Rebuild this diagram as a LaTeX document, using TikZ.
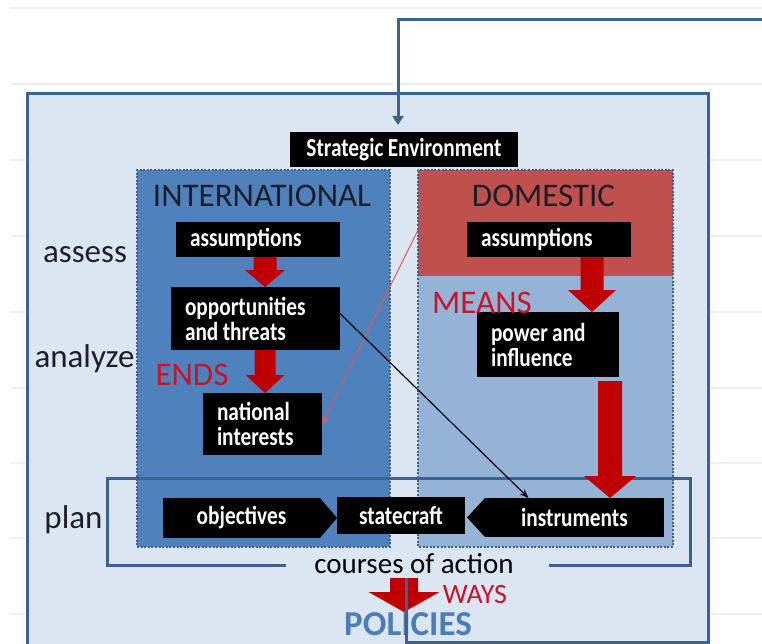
\documentclass[tikz,border=0pt]{standalone}
\usepackage{fontspec}
\setmainfont{Carlito}
\newfontfamily\boxfont[FakeStretch=0.82,WordSpace=0.9]{Carlito}
\usetikzlibrary{calc,arrows.meta}
\definecolor{frameblue}{RGB}{60,98,145}
\definecolor{outerfill}{RGB}{220,230,242}
\definecolor{intblue}{RGB}{79,129,189}
\definecolor{domblue}{RGB}{149,179,215}
\definecolor{domred}{RGB}{192,80,77}
\definecolor{arrowred}{RGB}{192,0,0}
\definecolor{labelred}{RGB}{200,20,40}
\definecolor{thinred}{RGB}{222,90,90}
\definecolor{policyblue}{RGB}{74,126,187}
\definecolor{gridgray}{RGB}{240,240,240}
\definecolor{darktext}{RGB}{30,30,40}
\newcommand{\redblock}[5]{%
  \fill[arrowred] ($(#1)+(-#3,0)$) -- ($(#1)+(#3,0)$) -- ($(#2)+(#3,-#5)$) -- ($(#2)+(#4,-#5)$) -- (#2) -- ($(#2)+(-#4,-#5)$) -- ($(#2)+(-#3,-#5)$) -- cycle;}
\tikzset{
  frame/.style={draw=frameblue, line width=3pt},
  dotline/.style={draw=frameblue, line width=1.6pt, dash pattern=on 2pt off 1.6pt},
  blk/.style 2 args={fill=black, text=white, font=\boxfont\bfseries\fontsize{26}{25}\selectfont,
    inner xsep=14pt, inner ysep=0pt, outer sep=0pt, align=flush left, text width=#1, minimum height=#2},
  cblk/.style={fill=black, text=white, font=\boxfont\bfseries\fontsize{26}{25}\selectfont,
    inner sep=0pt, outer sep=0pt, align=flush center},
  biglabel/.style={font=\fontsize{33}{36}\selectfont, text=darktext, anchor=base, inner sep=0pt},
  redlabel/.style={font=\fontsize{33}{36}\selectfont, text=labelred, anchor=base, inner sep=0pt},
  thinarrow/.style={line width=1.2pt, -{Stealth[length=9pt,width=7pt]}}
}
\begin{document}
\begin{tikzpicture}[x=1pt,y=-1pt]
\clip (0,0) rectangle (762,644);
\fill[white] (0,0) rectangle (762,644);
\foreach \yy in {8,84,160,236,312,388,463,538,614}
  \draw[gridgray, line width=1.5pt] (10,\yy) -- (762,\yy);
% outer box
\filldraw[frame, fill=outerfill] (27,94) rectangle (708,720);
% international / domestic panels
\node[fill=intblue, dotline, minimum width=253pt, minimum height=377pt, outer sep=0pt, inner sep=0pt] (int) at (263.5,358.5) {};
\node[fill=domblue, minimum width=255pt, minimum height=377pt, outer sep=0pt, inner sep=0pt] (dom) at (545.5,358.5) {};
\fill[domred] (dom.north west) rectangle ($(dom.north east)+(0,106)$);
\draw[dotline] (dom.north west) rectangle (dom.south east);
\node[biglabel] (intl) at (262,207) {INTERNATIONAL};
\node[biglabel] (doml) at (543.5,207) {DOMESTIC};
% side labels
\node[biglabel] (assess) at (85,262) {assess};
\node[biglabel] (analyze) at (84.5,367) {analyze};
\node[biglabel] (plan) at (73.5,528) {plan};
% courses of action bracket
\node[font=\fontsize{29}{32}\selectfont, text=black, anchor=base, inner sep=0pt] (coa) at (414,573) {courses of action};
\coordinate (brL) at (286,565);
\coordinate (brR) at (549,565);
\draw[frame] (brL) -- (107,565) -- (107,478) -- (690,478) -- (690,565) -- (brR);
% boxes
\node[cblk, minimum width=228pt, minimum height=35pt] (se) at (404,149.5) {Strategic Environment};
\node[blk={136pt}{35pt}] (ia) at (258,239.5) {assumptions};
\node[blk={141pt}{63pt}] (ot) at (255.5,318.5) {opportunities\\and threats};
\node[blk={91pt}{62pt}] (ni) at (262.5,424) {national\\interests};
\node[blk={136pt}{35pt}] (da) at (549,239.5) {assumptions};
\node[blk={114pt}{65pt}] (pi) at (548,344.5) {power and\\influence};
\node[cblk, minimum width=157pt, minimum height=40pt] (obj) at (241.5,518) {objectives};
\fill[black] (obj.north east) -- ($(obj.east)+(17,0)$) -- (obj.south east) -- cycle;
\node[cblk, minimum width=128pt, minimum height=37pt] (sc) at (401,515.5) {statecraft};
\node[cblk, minimum width=179pt, minimum height=39pt] (ins) at (574.5,517.5) {instruments};
\fill[black] (ins.north west) -- ($(ins.west)+(-18,0)$) -- (ins.south west) -- cycle;
% red labels
\node[redlabel] (ends) at (192,385) {ENDS};
\node[redlabel] (means) at (482,313) {MEANS};
\node[font=\fontsize{28}{30}\selectfont, text=labelred, anchor=base, inner sep=0pt] (ways) at (475,603) {WAYS};
% thin arrows
\draw[thinarrow, thinred, line width=1pt] ([yshift=-60pt]dom.north west) -- (ni.east);
\draw[thinarrow, black] ([yshift=5pt]ot.east) -- ([xshift=-46pt]ins.north);
% big red arrows
\coordinate (a1s) at ([xshift=7pt]ia.south);
\coordinate (a1e) at (a1s |- ot.north);
\redblock{a1s}{a1e}{11.5}{20}{17}
\coordinate (a2s) at ([xshift=9.5pt]ot.south);
\coordinate (a2e) at (a2s |- ni.north);
\redblock{a2s}{a2e}{10.5}{19.5}{18}
\coordinate (a3s) at ([xshift=43pt]da.south);
\coordinate (a3e) at (a3s |- pi.north);
\redblock{a3s}{a3e}{11.5}{24}{22}
\coordinate (a4s) at ([xshift=62pt,yshift=-4pt]pi.south);
\coordinate (a4e) at (a4s |- ins.north);
\redblock{a4s}{a4e}{12}{26}{22}
% policies
\node[font=\bfseries\fontsize{35}{38}\selectfont, text=policyblue, anchor=base, inner sep=0pt] (pol) at (408,635) {POLICIES};
\coordinate (a5s) at (404,578);
\coordinate (a5e) at (404,612);
\redblock{a5s}{a5e}{14}{35.5}{20}
% feedback loop
\coordinate (fbB) at (406,578);
\coordinate (obr) at (708,642);
\draw[frame] (fbB) |- (obr);
\coordinate (fbT) at (762,20);
\draw[frame, -{Triangle[width=11pt,length=9pt]}] (fbT) -| ([xshift=-6pt,yshift=7pt]se.north);
\end{tikzpicture}
\end{document}
